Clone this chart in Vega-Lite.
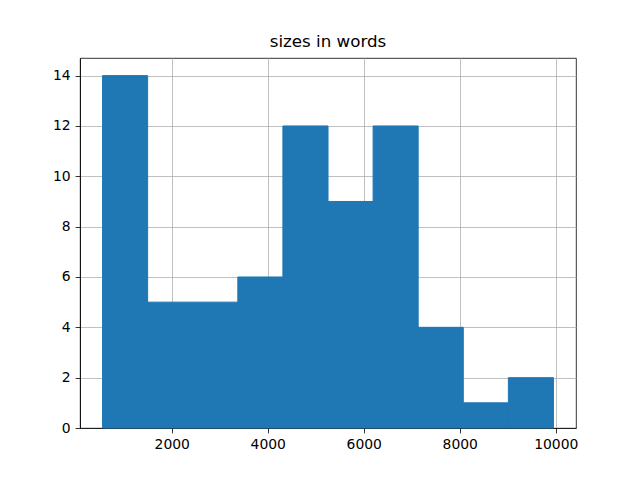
{
  "$schema": "https://vega.github.io/schema/vega-lite/v6.json",
  "width": 496,
  "height": 370,
  "autosize": "none",
  "padding": {"left": 80, "top": 58, "right": 64, "bottom": 52},
  "background": "white",
  "title": {
    "text": "sizes in words",
    "anchor": "middle",
    "frame": "group",
    "font": "DejaVu Sans",
    "fontSize": 16.7,
    "fontWeight": "normal",
    "color": "black",
    "offset": 7
  },
  "config": {
    "view": {"stroke": "black", "strokeWidth": 0.8},
    "axis": {
      "labelFont": "DejaVu Sans",
      "labelFontSize": 13.9,
      "labelColor": "black",
      "tickColor": "black",
      "tickSize": 4.9,
      "tickWidth": 0.8,
      "labelPadding": 4.9,
      "domainColor": "black",
      "domainWidth": 0.8,
      "gridColor": "#b0b0b0",
      "gridWidth": 0.8,
      "gridOpacity": 1,
      "title": null,
      "zindex": 1
    }
  },
  "data": {
    "values": [
      {"start": 559, "end": 1498, "count": 14},
      {"start": 1498, "end": 2437, "count": 5},
      {"start": 2437, "end": 3377, "count": 5},
      {"start": 3377, "end": 4316, "count": 6},
      {"start": 4316, "end": 5256, "count": 12},
      {"start": 5256, "end": 6195, "count": 9},
      {"start": 6195, "end": 7134, "count": 12},
      {"start": 7134, "end": 8074, "count": 4},
      {"start": 8074, "end": 9013, "count": 1},
      {"start": 9013, "end": 9952, "count": 2}
    ]
  },
  "mark": {"type": "rect", "color": "#1f77b4", "stroke": "#1f77b4", "strokeWidth": 1},
  "encoding": {
    "x": {
      "field": "start",
      "type": "quantitative",
      "scale": {"domain": [89, 10422], "nice": false, "zero": false},
      "axis": {"values": [2000, 4000, 6000, 8000, 10000], "format": "d", "labelFlush": false}
    },
    "x2": {"field": "end"},
    "y": {
      "field": "count",
      "type": "quantitative",
      "scale": {"domain": [0, 14.7], "nice": false},
      "axis": {"values": [0, 2, 4, 6, 8, 10, 12, 14], "format": "d"}
    },
    "y2": {"datum": 0}
  }
}
